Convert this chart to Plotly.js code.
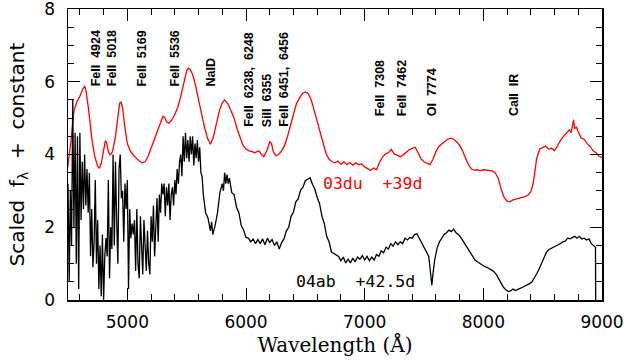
<!DOCTYPE html>
<html>
<head>
<meta charset="utf-8">
<script src="https://cdn.plot.ly/plotly-3.0.1.min.js"></script>
<style>html,body{margin:0;padding:0;background:#fff;}#chart{width:640px;height:362px;}</style>
</head>
<body>
<div id="chart"></div>
<script>
// SN 2003du at +39d (red), offset spectrum
const wave03du = [4490,4500,4510,4525,4540,4550,4575,4600,4625,4640,4650,4675,4700,4725,4750,4765,4780,4800,4815,4825,4840,4855,4875,4900,4920,4935,4945,4960,4975,5000,5025,5050,5075,5100,5125,5150,5175,5200,5225,5250,5275,5300,5315,5330,5350,5375,5400,5425,5450,5475,5500,5515,5530,5550,5575,5600,5625,5650,5675,5700,5725,5750,5775,5800,5820,5850,5875,5900,5925,5950,5975,6000,6025,6050,6075,6100,6115,6130,6150,6175,6200,6215,6230,6250,6275,6300,6325,6350,6375,6400,6425,6450,6475,6500,6525,6550,6575,6600,6625,6650,6675,6700,6725,6750,6775,6800,6825,6850,6875,6900,6925,6950,6975,7000,7025,7050,7075,7100,7125,7150,7175,7200,7225,7250,7275,7300,7325,7350,7375,7400,7425,7450,7475,7500,7525,7550,7575,7600,7625,7650,7675,7700,7725,7750,7775,7800,7825,7850,7875,7900,7925,7950,7975,8000,8025,8050,8075,8100,8125,8150,8175,8200,8225,8250,8275,8300,8325,8350,8375,8400,8420,8435,8450,8475,8500,8525,8550,8575,8600,8625,8650,8675,8700,8725,8740,8750,8760,8770,8785,8800,8825,8850,8875,8900,8925,8950,8975,9000];
const flux03du = [3.55,3.7,4.0,4.35,4.9,5.2,5.45,5.6,5.8,5.88,5.78,5.2,4.45,3.95,3.68,3.62,3.75,4.1,4.38,4.33,4.08,3.98,4.08,4.5,5.1,5.4,5.45,5.3,4.85,4.3,4.1,3.98,3.9,3.82,3.77,3.8,3.95,4.18,4.42,4.62,4.85,5.05,5.02,4.9,4.86,4.95,5.1,5.3,5.6,5.98,6.3,6.37,6.33,6.2,5.9,5.5,5.1,4.75,4.45,4.28,4.48,4.85,5.2,5.42,5.5,5.38,5.2,5.0,4.7,4.45,4.25,4.15,4.1,4.08,4.05,4.1,4.08,4.0,3.94,4.1,4.35,4.3,4.08,3.97,4.0,4.1,4.25,4.5,4.8,5.15,5.4,5.55,5.68,5.72,5.67,5.5,5.2,4.9,4.55,4.28,4.02,3.87,3.8,3.77,3.82,3.73,3.8,3.72,3.78,3.71,3.77,3.72,3.74,3.66,3.62,3.56,3.63,3.58,3.78,3.93,4.02,4.05,4.14,4.01,3.98,3.94,3.99,4.06,4.13,4.17,4.2,4.05,3.88,3.8,3.76,3.72,3.86,4.08,4.22,4.3,4.36,4.42,4.45,4.42,4.35,4.25,4.1,3.9,3.72,3.6,3.57,3.58,3.56,3.58,3.57,3.58,3.55,3.5,3.35,3.05,2.82,2.72,2.7,2.75,2.77,2.8,2.82,2.84,2.88,2.98,3.2,3.55,3.9,4.15,4.2,4.23,4.15,4.17,4.1,4.25,4.38,4.5,4.58,4.68,4.6,4.82,4.95,4.72,4.75,4.62,4.45,4.42,4.3,4.22,4.1,4.05,3.95,3.92];

// SN 2004ab at +42.5d (black)
const wave04ab = [4490,4500,4510,4520,4530,4540,4550,4560,4570,4580,4590,4600,4610,4620,4630,4640,4650,4660,4670,4680,4690,4700,4710,4720,4730,4740,4750,4760,4770,4780,4790,4800,4810,4820,4830,4840,4850,4860,4870,4880,4890,4900,4910,4920,4930,4940,4950,4960,4970,4980,4990,5000,5010,5020,5030,5040,5050,5060,5070,5080,5090,5100,5110,5120,5130,5140,5150,5160,5170,5180,5190,5200,5210,5220,5230,5240,5250,5260,5270,5280,5290,5300,5310,5320,5330,5340,5350,5360,5370,5380,5390,5400,5410,5420,5430,5440,5450,5460,5470,5480,5490,5500,5510,5520,5530,5540,5550,5560,5570,5580,5590,5600,5610,5620,5630,5640,5660,5680,5700,5710,5720,5740,5760,5780,5800,5810,5820,5830,5840,5850,5860,5880,5900,5920,5940,5960,5980,6000,6020,6040,6060,6080,6100,6120,6140,6160,6180,6200,6220,6240,6260,6280,6300,6320,6340,6360,6380,6400,6420,6440,6460,6480,6500,6520,6540,6560,6580,6600,6620,6640,6660,6680,6700,6720,6740,6760,6780,6800,6820,6840,6860,6880,6900,6920,6940,6960,6980,7000,7020,7040,7060,7080,7100,7120,7140,7160,7180,7200,7220,7240,7260,7280,7300,7320,7340,7360,7380,7400,7420,7440,7460,7480,7500,7520,7540,7550,7560,7566,7575,7590,7610,7630,7650,7670,7690,7710,7730,7750,7770,7790,7810,7830,7850,7870,7890,7910,7930,7950,7970,7990,8010,8030,8050,8070,8090,8110,8130,8150,8170,8190,8210,8230,8250,8270,8290,8310,8330,8350,8370,8390,8410,8430,8450,8470,8490,8510,8530,8550,8570,8590,8610,8630,8650,8670,8690,8710,8730,8750,8770,8790,8810,8830,8850,8870,8890,8910,8930,8945,8947];
const flux04ab = [2.5,3.2,0.5,3.0,1.5,5.5,2.0,4.6,1.0,4.5,0.3,4.6,2.2,3.8,2.5,4.0,2.6,3.6,2.4,3.5,1.2,2.5,0.9,1.6,3.3,1.0,2.2,0.3,1.5,0.1,1.8,0.0,1.2,1.7,1.2,3.3,0.6,2.0,1.4,4.0,1.5,3.8,2.2,1.0,3.6,4.0,2.8,3.0,1.6,3.2,2.5,3.3,0.3,2.5,1.7,2.1,1.8,2.2,0.8,2.5,1.0,0.6,2.3,1.5,0.7,2.2,1.2,0.8,1.9,1.0,0.7,2.3,1.6,2.6,1.2,2.0,2.8,1.6,2.9,2.4,3.2,2.9,3.2,2.3,3.1,2.6,3.2,2.2,2.9,3.1,2.6,3.3,2.9,3.6,3.2,3.8,4.0,3.4,4.5,3.8,4.6,3.9,4.4,3.8,4.5,4.0,4.5,3.7,4.3,3.9,4.4,3.8,4.2,3.5,3.4,2.9,2.4,2.25,1.9,2.15,1.8,2.05,2.4,2.95,3.2,3.0,3.5,3.2,3.45,3.2,3.35,2.95,2.9,2.55,2.4,2.05,1.92,1.72,1.7,1.6,1.68,1.55,1.66,1.55,1.68,1.52,1.7,1.58,1.66,1.5,1.6,1.4,1.58,1.68,1.9,2.0,2.3,2.42,2.7,2.78,3.02,3.1,3.28,3.32,3.36,3.18,3.05,2.82,2.65,2.3,2.1,1.75,1.6,1.32,1.28,1.22,1.2,1.08,1.18,1.02,1.12,1.02,1.15,1.05,1.18,1.12,1.22,1.1,1.2,1.08,1.18,1.1,1.25,1.2,1.35,1.3,1.45,1.4,1.55,1.48,1.6,1.52,1.6,1.55,1.7,1.65,1.72,1.7,1.8,1.82,1.7,1.58,1.45,1.35,1.2,0.9,0.5,0.41,0.7,1.1,1.42,1.6,1.7,1.8,1.85,1.92,1.88,1.95,1.85,1.8,1.72,1.62,1.5,1.42,1.3,1.2,1.1,1.05,1.0,0.95,0.92,0.9,0.85,0.82,0.78,0.7,0.58,0.46,0.35,0.28,0.23,0.25,0.3,0.26,0.28,0.32,0.35,0.38,0.42,0.45,0.5,0.6,0.72,0.85,1.0,1.15,1.3,1.38,1.42,1.45,1.5,1.52,1.55,1.6,1.62,1.7,1.68,1.72,1.75,1.7,1.75,1.68,1.7,1.65,1.68,1.55,1.5,1.45,0.0];

// Line identifications
const lineLabels = ["FeII  4924","FeII  5018","FeII  5169","FeII  5536","NaID","FeII  6238,  6248","SiII  6355","FeII  6451,  6456","FeII  7308","FeII  7462","OI  7774","CaII  IR"];
const labelWave = [4737,4871,5127,5404,5708,6028,6179,6322,7131,7316,7569,8259];
const labelBase = [5.85,5.85,5.85,5.85,5.85,4.73,4.73,4.73,5.03,5.03,5.03,5.03];

const seriesNames = ["03du  +39d","04ab  +42.5d"];
const seriesLabelWave = [6644,6415];
const seriesLabelFlux = [3.19,0.52];
const seriesColors = ["#ff0000","#000000"];

const xTicks = [5000,6000,7000,8000,9000];
const yTicks = [0,2,4,6,8];

const traces = [
  {x: wave03du, y: flux03du, type:'scatter', mode:'lines', line:{color:seriesColors[0], width:1.3}, hoverinfo:'skip'},
  {x: wave04ab, y: flux04ab, type:'scatter', mode:'lines', line:{color:seriesColors[1], width:1.3}, hoverinfo:'skip'},
  {x: [null], y: [null], xaxis:'x2', yaxis:'y2', type:'scatter', mode:'lines', hoverinfo:'skip'}
];

const annotations = [];
lineLabels.forEach((t,i)=>{
  annotations.push({x:labelWave[i], y:labelBase[i], xref:'x', yref:'y', text:t, showarrow:false,
    textangle:-90, xanchor:'center', yanchor:'bottom', borderpad:0,
    font:{family:'Liberation Sans, Arial, sans-serif', size:12.5, color:'#000', weight:'bold'}});
});
seriesNames.forEach((t,i)=>{
  annotations.push({x:seriesLabelWave[i], y:seriesLabelFlux[i], xref:'x', yref:'y', text:t, showarrow:false,
    xanchor:'left', yanchor:'middle', borderpad:0,
    font:{family:'DejaVu Sans Mono, monospace', size:16.5, color:seriesColors[i]}});
});

const axisCommon = {showline:true, linecolor:'#000', linewidth:1.5, mirror:true, ticks:'inside',
  ticklen:12, tickwidth:1, tickcolor:'#000', showgrid:false, zeroline:false, ticklabeloverflow:'allow',
  tickfont:{family:'DejaVu Sans, sans-serif', size:17, color:'#000'}};

const layout = {
  width:640, height:362,
  margin:{l:68, r:38, t:9, b:62},
  paper_bgcolor:'#fff', plot_bgcolor:'#fff',
  showlegend:false,
  xaxis: Object.assign({}, axisCommon, {range:[4500,9000], tickvals:xTicks, ticktext:xTicks.map(String),
    minor:{dtick:200, tick0:4600, ticklen:6, ticks:'inside', tickcolor:'#000', tickwidth:1},
    ticklabelstandoff:6,
    title:{text:'Wavelength (Å)', standoff:6, font:{family:'DejaVu Serif, serif', size:20, color:'#000'}}}),
  yaxis: Object.assign({}, axisCommon, {range:[0,8], tickvals:yTicks, ticktext:yTicks.map(String),
    minor:{dtick:0.5, tick0:0, ticklen:6, ticks:'inside', tickcolor:'#000', tickwidth:1},
    ticklabelstandoff:8,
    title:{text:'Scaled  f<sub>λ</sub>  +  constant', standoff:14, font:{family:'DejaVu Sans, sans-serif', size:20, color:'#000'}}}),
  xaxis2: {overlaying:'x', side:'top', anchor:'y2', range:[4500,9000], tickvals:xTicks, ticks:'inside', ticklen:12,
    tickwidth:1, tickcolor:'#000', showticklabels:false, showline:false, showgrid:false, zeroline:false,
    minor:{dtick:200, tick0:4600, ticklen:6, ticks:'inside', tickcolor:'#000', tickwidth:1}},
  yaxis2: {overlaying:'y', side:'right', anchor:'x2', range:[0,8], tickvals:yTicks, ticks:'inside', ticklen:12,
    tickwidth:1, tickcolor:'#000', showticklabels:false, showline:false, showgrid:false, zeroline:false,
    minor:{dtick:0.5, tick0:0, ticklen:6, ticks:'inside', tickcolor:'#000', tickwidth:1}},
  annotations: annotations
};

Plotly.newPlot('chart', traces, layout, {staticPlot:true, displayModeBar:false});
</script>
</body>
</html>
